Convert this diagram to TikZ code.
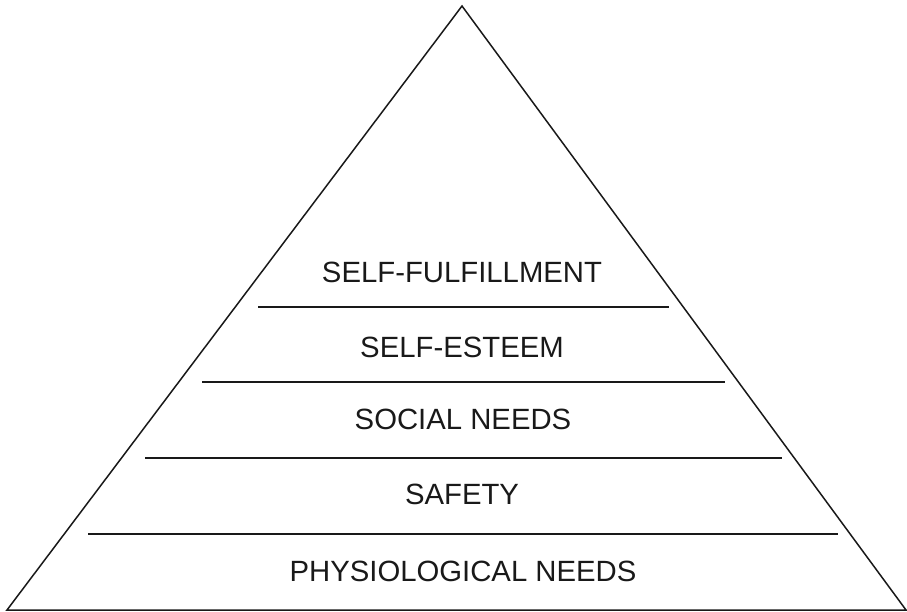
\documentclass[tikz,border=0pt]{standalone}
\usepackage{fontspec}
\setmainfont{Liberation Sans}
\begin{document}
\begin{tikzpicture}[x=1pt,y=-1pt,
  edge/.style={line width=1.5pt,draw=black!90},
  lvl/.style={anchor=base,inner sep=0pt,font=\fontsize{29.3}{34}\selectfont,text=black!90}]
\useasboundingbox (0,0) rectangle (907,612);
\coordinate (apex) at (462,6);
\coordinate (bl) at (7,610);
\coordinate (br) at (906,610);
\draw[edge,line join=miter] (bl) -- (apex) -- (br) -- cycle;
\coordinate (l1a) at (258,307); \coordinate (l1b) at (669,307);
\coordinate (l2a) at (202,382); \coordinate (l2b) at (725,382);
\coordinate (l3a) at (145,458); \coordinate (l3b) at (782,458);
\coordinate (l4a) at (88,534); \coordinate (l4b) at (838,534);
\draw[edge] (l1a) -- (l1b);
\draw[edge] (l2a) -- (l2b);
\draw[edge] (l3a) -- (l3b);
\draw[edge] (l4a) -- (l4b);
\node[lvl] (t1) at (462,282) {SELF-FULFILLMENT};
\node[lvl] (t2) at (462,357) {SELF-ESTEEM};
\node[lvl] (t3) at (463,429) {SOCIAL NEEDS};
\node[lvl] (t4) at (462,504) {SAFETY};
\node[lvl] (t5) at (463,581) {PHYSIOLOGICAL NEEDS};
\end{tikzpicture}
\end{document}
